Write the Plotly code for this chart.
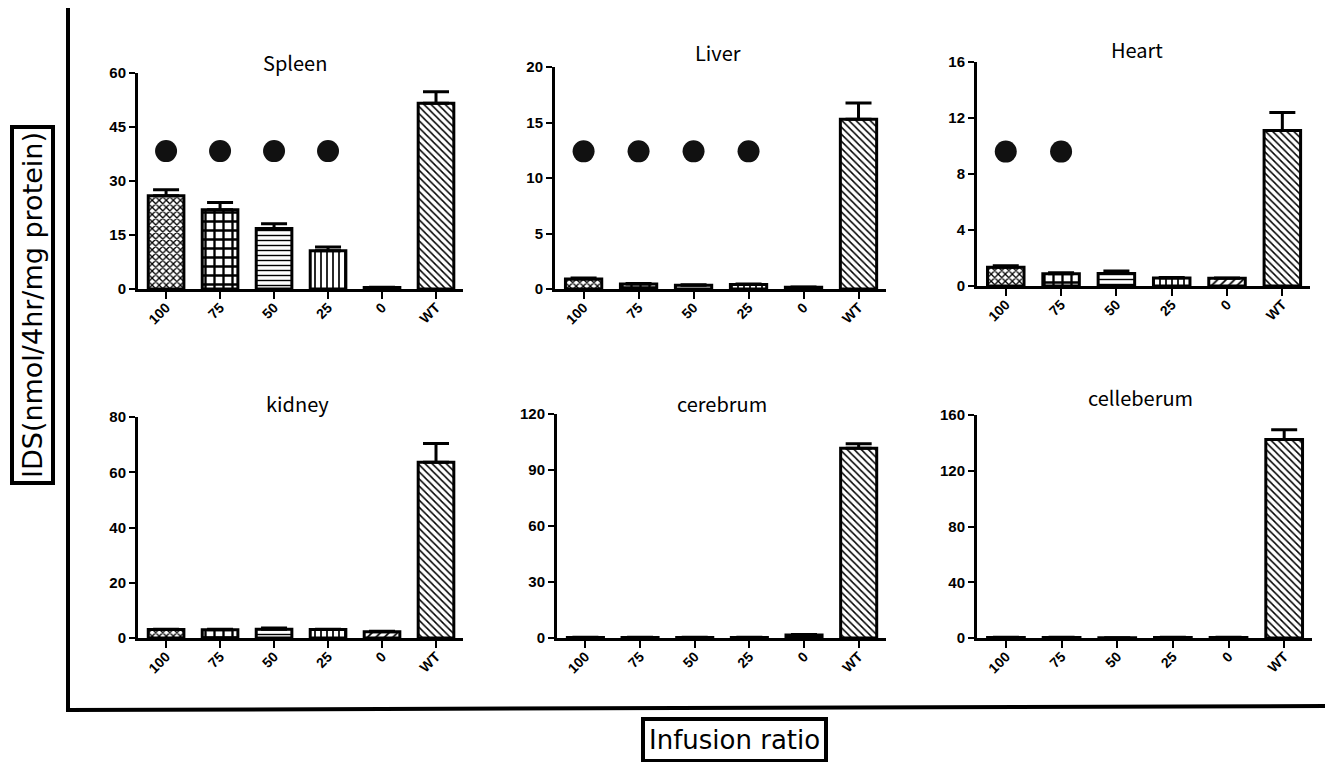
import plotly.graph_objects as go

# ---------------- data ----------------
categories = ["100", "75", "50", "25", "0", "WT"]

spleen_mean = [25.9, 22.0, 16.8, 10.6, 0.4, 51.6]
spleen_err = [1.7, 2.0, 1.3, 1.1, 0.1, 3.2]
liver_mean = [0.9, 0.45, 0.33, 0.4, 0.15, 15.3]
liver_err = [0.1, 0.05, 0.05, 0.05, 0.03, 1.45]
heart_mean = [1.34, 0.88, 0.9, 0.57, 0.55, 11.1]
heart_err = [0.1, 0.07, 0.18, 0.03, 0.03, 1.3]
kidney_mean = [3.1, 3.0, 3.2, 3.1, 2.3, 63.6]
kidney_err = [0.1, 0.2, 0.4, 0.1, 0.1, 6.8]
cerebrum_mean = [0.3, 0.3, 0.3, 0.3, 1.6, 101.6]
cerebrum_err = [0.05, 0.05, 0.05, 0.05, 0.3, 2.5]
celleberum_mean = [0.4, 0.4, 0.1, 0.4, 0.4, 142.5]
celleberum_err = [0.05, 0.05, 0.05, 0.05, 0.05, 7.0]

# significance dots (category, y)
spleen_sig_cats = ["100", "75", "50", "25"]
spleen_sig_y = 38.3
liver_sig_cats = ["100", "75", "50", "25"]
liver_sig_y = 12.4
heart_sig_cats = ["100", "75"]
heart_sig_y = 9.6

titles = ["Spleen", "Liver", "Heart", "kidney", "cerebrum", "celleberum"]
y_max = [60, 20, 16, 80, 120, 160]
y_dtick = [15, 5, 4, 20, 30, 40]

# ---------------- styling ----------------
W, H = 1325, 762
# pixel boxes of each panel: (left, right, top, bottom)
boxes = [
    (138, 463, 73, 289),
    (555, 886, 67, 289),
    (977, 1310, 62, 286),
    (138, 463, 417, 638),
    (557, 886, 414, 638),
    (977, 1312, 415, 638),
]
title_pos = [(295, 62), (718, 53), (1137, 49), (297, 403), (722, 403), (1140, 397)]

pat_shapes = ["x", "+", "-", "|", "/", "\\"]
pat_sizes = [5, 9, 5, 6, 6, 5]
pat_solid = [0.45, 0.45, 0.28, 0.28, 0.3, 0.3]

means = [spleen_mean, liver_mean, heart_mean, kidney_mean, cerebrum_mean, celleberum_mean]
errs = [spleen_err, liver_err, heart_err, kidney_err, cerebrum_err, celleberum_err]
sigs = [(spleen_sig_cats, spleen_sig_y), (liver_sig_cats, liver_sig_y), (heart_sig_cats, heart_sig_y),
        None, None, None]

fig = go.Figure()
layout = {}
annotations = []

for i in range(6):
    n = "" if i == 0 else str(i + 1)
    xa, ya = "x" + n, "y" + n
    fig.add_trace(go.Bar(
        x=categories, y=means[i], xaxis=xa, yaxis=ya, width=0.66,
        marker=dict(color="white", line=dict(color="black", width=3),
                    pattern=dict(shape=pat_shapes, size=pat_sizes, solidity=pat_solid,
                                 fgcolor="black", bgcolor="white", fillmode="replace")),
        error_y=dict(type="data", symmetric=False, array=errs[i], arrayminus=[0] * 6,
                     color="black", thickness=3, width=13),
        showlegend=False, hoverinfo="skip",
    ))
    if sigs[i] is not None:
        cats, yv = sigs[i]
        fig.add_trace(go.Scatter(
            x=cats, y=[yv] * len(cats), xaxis=xa, yaxis=ya, mode="markers",
            marker=dict(color="#111", size=22, line=dict(width=0)),
            showlegend=False, hoverinfo="skip", cliponaxis=False,
        ))
    l, r, t, b = boxes[i]
    layout["xaxis" + n] = dict(
        domain=[l / W, r / W], anchor=ya, type="category", range=[-0.52, 5.5],
        showline=True, linecolor="black", linewidth=3, ticks="outside", ticklen=7,
        tickwidth=2, tickcolor="black", showgrid=False, zeroline=False,
        tickangle=-45, automargin=False, ticklabelstandoff=-5,
        tickfont=dict(family="Liberation Sans", size=14, color="black", weight="bold"),
        fixedrange=True,
    )
    layout["yaxis" + n] = dict(
        domain=[1 - b / H, 1 - t / H], anchor=xa, range=[0, y_max[i]], dtick=y_dtick[i],
        showline=True, linecolor="black", linewidth=3, ticks="outside", ticklen=6,
        tickwidth=2, tickcolor="black", showgrid=False, zeroline=False, automargin=False,
        tickfont=dict(family="Liberation Sans", size=15, color="black", weight="bold"),
        fixedrange=True,
    )
    tx, ty = title_pos[i]
    annotations.append(dict(
        text=titles[i], x=tx / W, y=1 - ty / H, xref="paper", yref="paper",
        showarrow=False, xanchor="center", yanchor="middle",
        font=dict(family="Noto Sans CJK JP", size=20, color="black"),
    ))

# outer axis labels with boxes
annotations.append(dict(
    text="IDS(nmol/4hr/mg protein)", x=32 / W, y=1 - 305 / H, xref="paper", yref="paper",
    showarrow=False, textangle=-90, xanchor="center", yanchor="middle",
    font=dict(family="DejaVu Sans", size=27, color="black"),
    bordercolor="black", borderwidth=4, borderpad=3, bgcolor="white",
))
annotations.append(dict(
    text="Infusion ratio", x=734 / W, y=1 - 740 / H, xref="paper", yref="paper",
    showarrow=False, xanchor="center", yanchor="middle",
    font=dict(family="DejaVu Sans", size=26, color="black"),
    bordercolor="black", borderwidth=4, borderpad=4, bgcolor="white",
))

shapes = [
    dict(type="line", xref="paper", yref="paper", x0=68 / W, x1=68 / W, y0=1 - 8 / H, y1=1 - 710 / H,
         line=dict(color="black", width=4)),
    dict(type="line", xref="paper", yref="paper", x0=66 / W, x1=1325 / W, y0=1 - 710 / H, y1=1 - 706 / H,
         line=dict(color="black", width=4)),
]

fig.update_layout(
    width=W, height=H, margin=dict(l=0, r=0, t=0, b=0, autoexpand=False),
    paper_bgcolor="white", plot_bgcolor="white",
    annotations=annotations, shapes=shapes, bargap=0.3,
    **layout,
)

fig.write_html("out.html", config={"displayModeBar": False})
